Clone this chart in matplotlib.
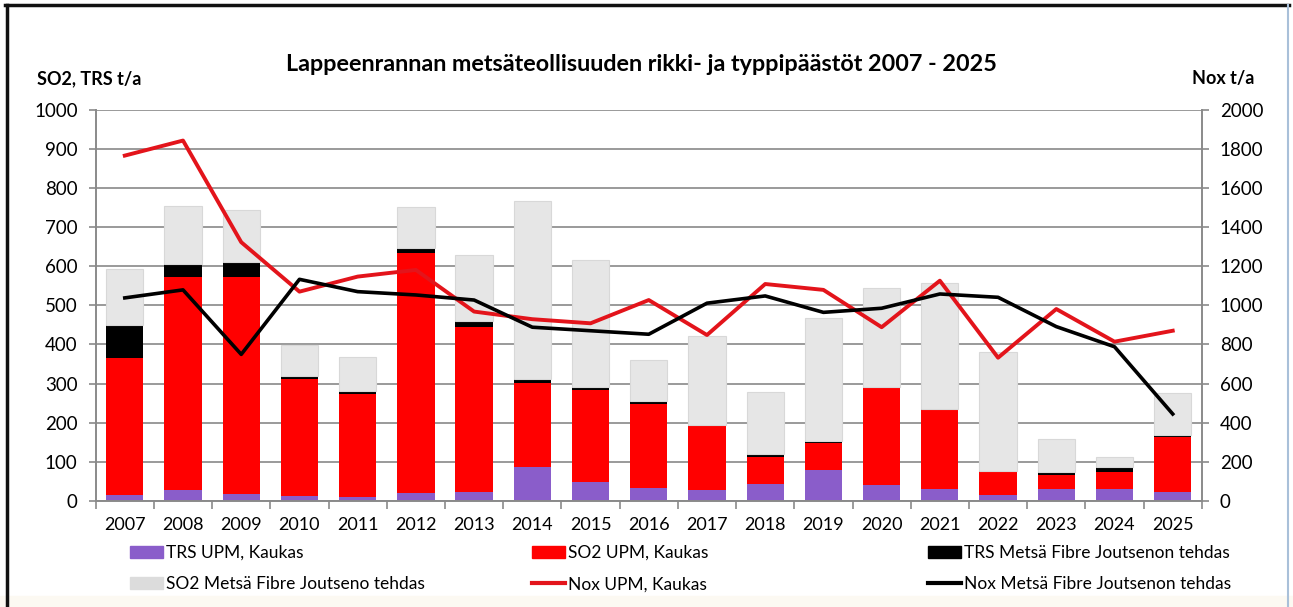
import numpy as np
import matplotlib
matplotlib.use("Agg")
import matplotlib.pyplot as plt
from matplotlib.patches import Rectangle, Patch
from matplotlib.lines import Line2D

plt.rcParams['font.family'] = ['Lato', 'DejaVu Sans']

# values (t/a)
years = [str(y) for y in range(2007, 2026)]
trs_upm = [15, 27, 17, 13, 9, 19, 23, 87, 49, 33, 27, 43, 79, 40, 29, 15, 30, 30, 23]
so2_upm = [349, 546, 556, 299, 263, 614, 422, 215, 234, 214, 165, 70, 70, 251, 203, 59, 36, 44, 141]
trs_metsa = [86, 32, 39, 8, 9, 13, 16, 10, 8, 7, 2, 6, 4, 1, 4, 1, 8, 13, 4]
so2_metsa = [143, 150, 132, 78, 87, 106, 169, 455, 325, 106, 228, 158, 314, 253, 320, 305, 83, 26, 107]
nox_upm = [1766, 1843, 1323, 1070, 1147, 1181, 968, 929, 908, 1027, 848, 1109, 1079, 888, 1126, 732, 981, 814, 870]
nox_metsa = [1038, 1079, 749, 1133, 1070, 1053, 1027, 888, 870, 852, 1011, 1048, 964, 985, 1058, 1041, 891, 788, 444]

c_purple = '#8a5dca'
c_red = '#ff0000'
c_black = '#000000'
c_grey = '#e6e6e6'
c_nox_red = '#e3141b'

fig = plt.figure(figsize=(12.93, 6.07), dpi=100)
ax = fig.add_axes([0.074, 0.175, 0.8555, 0.644])

x = np.arange(len(years))
w = 0.64
b1 = np.array(trs_upm)
b2 = b1 + np.array(so2_upm)
b3 = b2 + np.array(trs_metsa)
ax.bar(x, trs_upm, w, color=c_purple, zorder=2)
ax.bar(x, so2_upm, w, bottom=b1, color=c_red, zorder=2)
ax.bar(x, trs_metsa, w, bottom=b2, color=c_black, zorder=2)
ax.bar(x, so2_metsa, w, bottom=b3, color=c_grey, edgecolor='#d8d8d8', linewidth=0.8, zorder=2)

ax.set_xlim(-0.5, len(years) - 0.5)
ax.set_ylim(0, 1000)
ax.set_yticks(range(0, 1001, 100))
ax.yaxis.grid(True, color='#9a9a9a', linewidth=1.4)
ax.set_axisbelow(True)
ax.set_xticks(np.arange(-0.5, len(years), 1))
ax.set_xticklabels([])
ax.set_xticks(x, minor=True)
ax.set_xticklabels(years, minor=True)
ax.tick_params(axis='x', which='major', length=6, color='#8a8a8a', width=1.2)
ax.tick_params(axis='x', which='minor', length=0, pad=12, labelsize=13)
ax.tick_params(axis='y', length=5, color='#8a8a8a', width=1.2, labelsize=13.5, pad=8)
for s in ['left', 'bottom']:
    ax.spines[s].set_color('#8a8a8a')
    ax.spines[s].set_linewidth(1.4)
ax.spines['top'].set_visible(False)
ax.spines['right'].set_visible(False)

ax2 = ax.twinx()
ax2.plot(x, nox_upm, color=c_nox_red, linewidth=2.8, zorder=3)
ax2.plot(x, nox_metsa, color=c_black, linewidth=2.6, zorder=3)
ax2.set_ylim(0, 2000)
ax2.set_yticks(range(0, 2001, 200))
ax2.tick_params(axis='y', length=5, color='#8a8a8a', width=1.2, labelsize=13.5, pad=8)
ax2.spines['right'].set_color('#8a8a8a')
ax2.spines['right'].set_linewidth(1.4)
for s in ['top', 'left', 'bottom']:
    ax2.spines[s].set_visible(False)

fig.text(0.4957, 0.893, 'Lappeenrannan metsäteollisuuden rikki- ja typpipäästöt 2007 - 2025',
         ha='center', va='center', fontsize=16.8, fontweight='bold')
fig.text(0.029, 0.871, 'SO2, TRS t/a', ha='left', va='center', fontsize=13, fontweight='bold')
fig.text(0.970, 0.871, 'Nox t/a', ha='right', va='center', fontsize=13, fontweight='bold')

# legend: three columns, two rows
cols = [
    [(Patch(color=c_purple), 'TRS UPM, Kaukas'), (Patch(color='#dcdcdc'), 'SO2 Metsä Fibre Joutseno tehdas')],
    [(Patch(color=c_red), 'SO2 UPM, Kaukas'), (Line2D([], [], color=c_nox_red, lw=3), 'Nox UPM, Kaukas')],
    [(Patch(color=c_black), 'TRS Metsä Fibre Joutsenon tehdas'), (Line2D([], [], color=c_black, lw=3), 'Nox Metsä Fibre Joutsenon tehdas')],
]
xs = [0.094, 0.405, 0.711]
for cx, entries in zip(xs, cols):
    fig.legend([e[0] for e in entries], [e[1] for e in entries], loc='upper left',
               bbox_to_anchor=(cx, 0.117), frameon=False, fontsize=12.5,
               handlelength=1.9, handletextpad=0.15, labelspacing=0.9, borderpad=0)

# outer frame like the screenshot
fig.add_artist(Rectangle((0.0, 0.0), 1.0, 0.018, transform=fig.transFigure, color='#fcf9f2', zorder=0))
fig.add_artist(Line2D([0.004, 0.997], [0.991, 0.991], transform=fig.transFigure, color='#111111', lw=2.5))
fig.add_artist(Line2D([0.0055, 0.0055], [0.0, 0.991], transform=fig.transFigure, color='#111111', lw=2.5))
fig.add_artist(Line2D([0.996, 0.996], [0.0, 0.991], transform=fig.transFigure, color='#a9c0d9', lw=1.5))

fig.savefig('out.png', dpi=100)
